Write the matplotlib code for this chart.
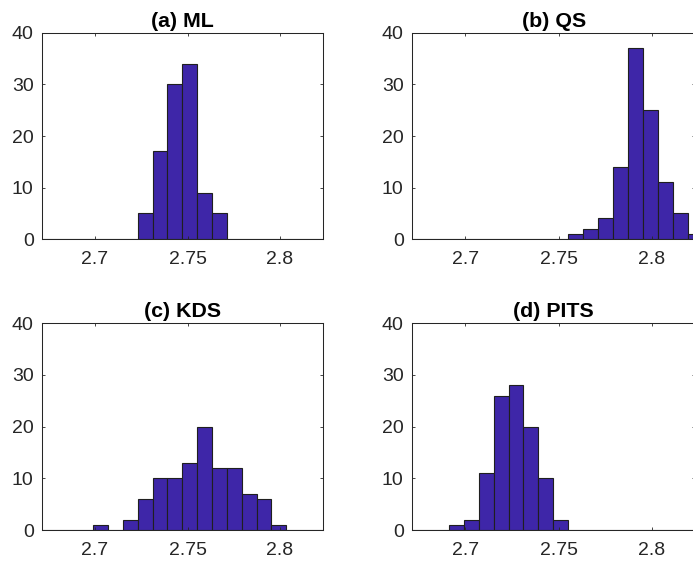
import matplotlib
matplotlib.use("Agg")
import matplotlib.pyplot as plt
import numpy as np

plt.rcParams['font.family'] = ['Liberation Sans', 'DejaVu Sans']

# 20 common bins
bin_start = 2.66689
bin_width = 0.008027
n_bins = 20

titles = ["(a) ML", "(b) QS", "(c) KDS", "(d) PITS"]

counts_ml = [0, 0, 0, 0, 0, 0, 0, 5, 17, 30, 34, 9, 5, 0, 0, 0, 0, 0, 0, 0]
counts_qs = [0, 0, 0, 0, 0, 0, 0, 0, 0, 0, 0, 1, 2, 4, 14, 37, 25, 11, 5, 1]
counts_kds = [0, 0, 0, 0, 1, 0, 2, 6, 10, 10, 13, 20, 12, 12, 7, 6, 1, 0, 0, 0]
counts_pits = [0, 0, 0, 1, 2, 11, 26, 28, 20, 10, 2, 0, 0, 0, 0, 0, 0, 0, 0, 0]

xticks = [2.7, 2.75, 2.8]
xtick_labels = ["2.7", "2.75", "2.8"]
yticks = [0, 10, 20, 30, 40]

edges = bin_start + bin_width * np.arange(n_bins + 1)

fig = plt.figure(figsize=(6.93, 5.64), dpi=100)

# axes boxes in figure fractions (left, bottom, width, height)
pos = [
    [0.06061, 0.57624, 0.40548, 0.36525],
    [0.59452, 0.57624, 0.40895, 0.36525],
    [0.06061, 0.06028, 0.40548, 0.36649],
    [0.59452, 0.06028, 0.40895, 0.36649],
]

axcol = '#262626'
all_counts = [counts_ml, counts_qs, counts_kds, counts_pits]

for i in range(4):
    ax = fig.add_axes(pos[i])
    ax.bar(edges[:-1], all_counts[i], width=bin_width, align='edge',
           color='#3E26A8', edgecolor='#1f1f1f', linewidth=0.8)
    ax.set_xlim(2.67135, 2.82324)
    ax.set_ylim(0, 40)
    ax.set_xticks(xticks)
    ax.set_xticklabels(xtick_labels)
    ax.set_yticks(yticks)
    ax.tick_params(direction='in', length=2.5, width=0.6, colors=axcol,
                   labelsize=14, top=True, right=True)
    ax.tick_params(axis='x', pad=8.5)
    ax.tick_params(axis='y', pad=6)
    for s in ax.spines.values():
        s.set_color(axcol)
        s.set_linewidth(0.75)
    ax.set_title(titles[i], fontsize=15.4, fontweight='bold', color='black', pad=4.5)

fig.savefig("out.png", dpi=100)
